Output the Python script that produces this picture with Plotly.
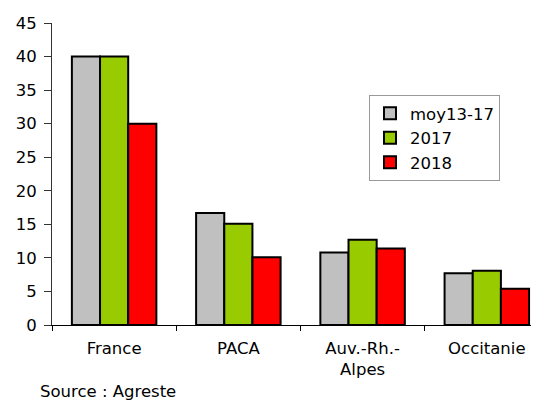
import plotly.graph_objects as go

categories = ["France", "PACA", "Auv.-Rh.-<br>Alpes", "Occitanie"]
moy13_17 = [40, 16.7, 10.8, 7.7]
y2017 = [40, 15.1, 12.7, 8.1]
y2018 = [30, 10.1, 11.4, 5.4]
series_names = ["moy13-17", "2017", "2018"]
colors = ["#C0C0C0", "#99CC00", "#FF0000"]
y_ticks = list(range(0, 50, 5))

fig = go.Figure()
for name, vals, col in zip(series_names, [moy13_17, y2017, y2018], colors):
    fig.add_trace(go.Bar(
        x=categories, y=vals, name=name,
        marker=dict(color=col, line=dict(color="black", width=2)),
    ))

# page body has an 8px margin; the figure is sized so it ends at the window edge
OFF = 8
W, H = 539 - OFF, 405 - OFF
ml, mr, mt, mb = 52 - OFF, 0, 23 - OFF, 405 - 325
plot_w = W - ml - mr
plot_h = H - mt - mb
fig.update_layout(
    width=W, height=H,
    margin=dict(l=ml, r=mr, t=mt, b=mb, autoexpand=False),
    paper_bgcolor="white", plot_bgcolor="white",
    barmode="group", bargap=0.32, bargroupgap=0,
    font=dict(family="DejaVu Sans", size=16.5, color="black"),
    legend=dict(
        x=(369 - 52) / plot_w, y=(325 - 95) / plot_h,
        xanchor="left", yanchor="top",
        bordercolor="#999999", borderwidth=1, bgcolor="white",
        font=dict(size=16.5), tracegroupgap=0,
        itemwidth=30,
    ),
    showlegend=True,
)
fig.update_xaxes(
    type="category", range=[-0.5, 3.42], automargin=False,
    showline=True, linecolor="black", linewidth=1,
    ticks="outside", tickson="boundaries", ticklen=5, tickcolor="black",
    ticklabelstandoff=8,
    showgrid=False, zeroline=False,
)
fig.update_yaxes(
    range=[0, 45], tickvals=y_ticks, automargin=False,
    showline=True, linecolor="#333333", linewidth=1,
    ticks="outside", ticklen=7, tickcolor="#333333",
    ticklabelstandoff=4,
    showgrid=False, zeroline=False,
)
fig.add_annotation(
    text="Source : Agreste", xref="paper", yref="paper",
    x=(38 - 52) / plot_w, y=-(403 - 325) / plot_h,
    xanchor="left", yanchor="bottom", showarrow=False,
    font=dict(size=16.5),
)
fig.write_html("out.html")
